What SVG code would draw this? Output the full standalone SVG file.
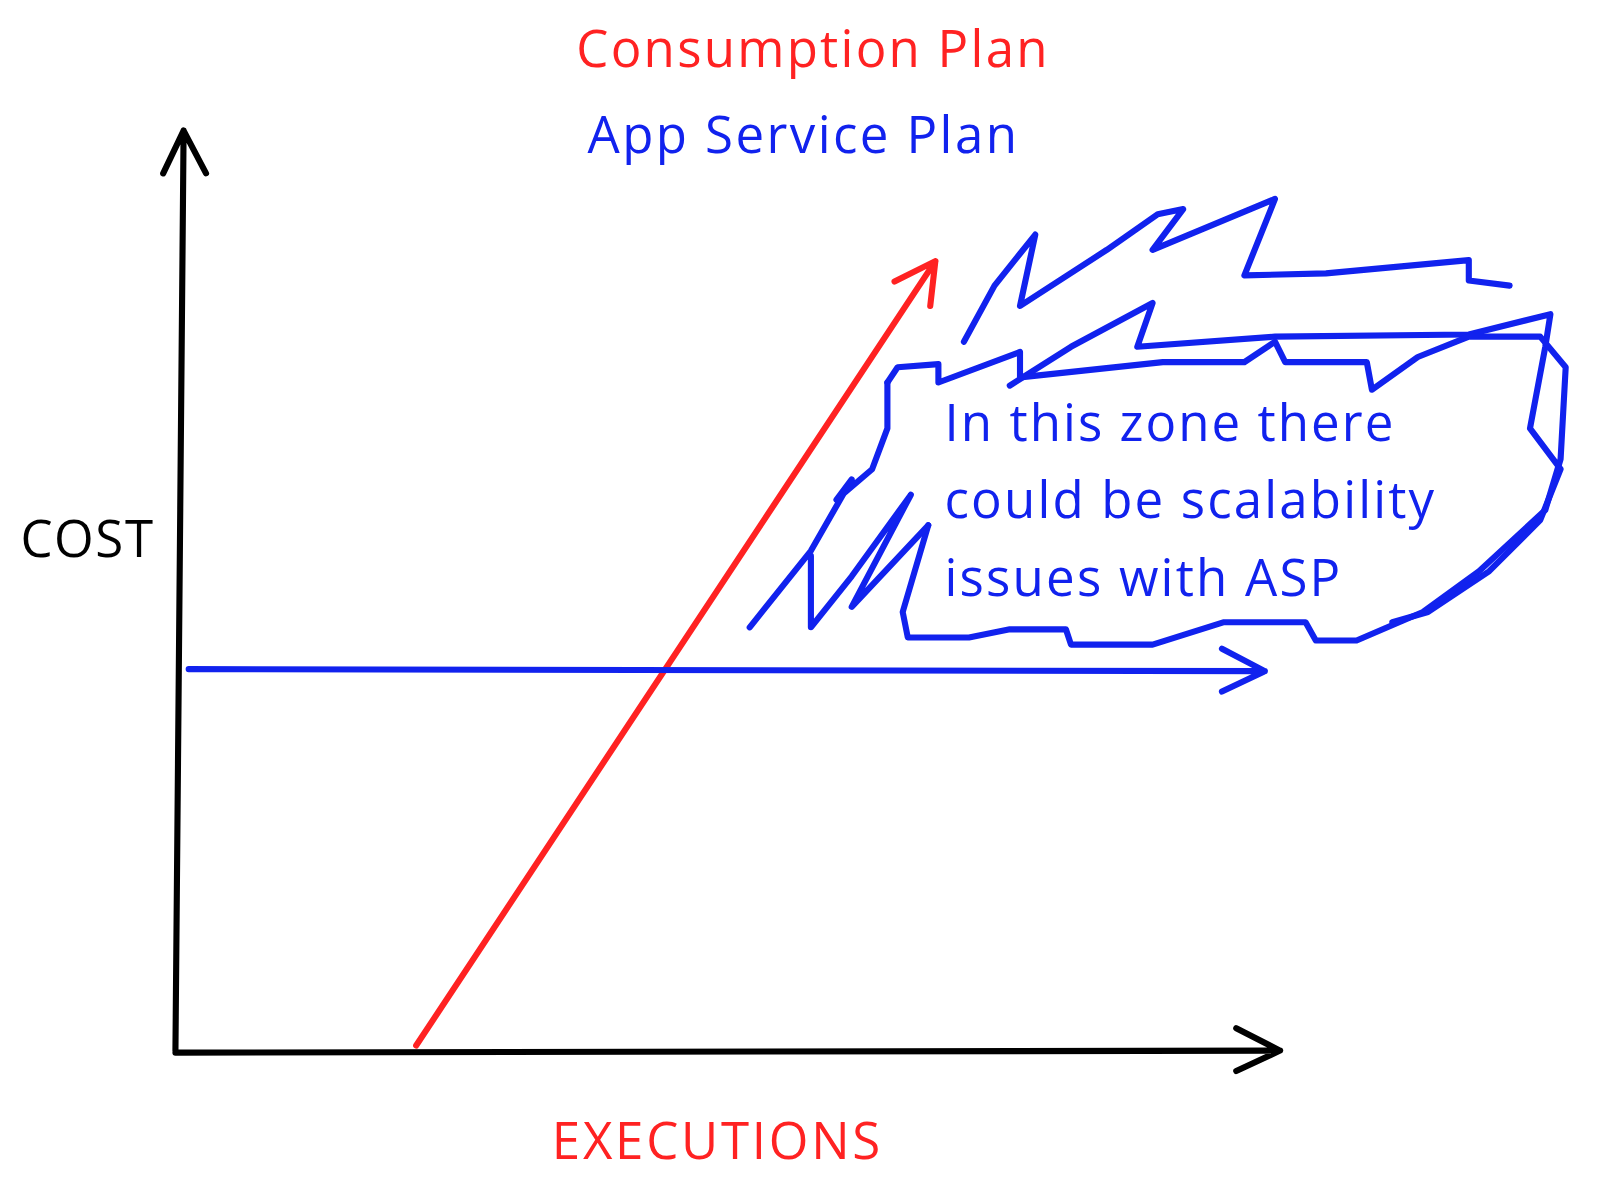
<svg xmlns="http://www.w3.org/2000/svg" width="1600" height="1200" viewBox="0 0 1600 1200">
<style>
.t{font-family:"Open Sans","Liberation Sans",sans-serif;font-size:50px}
.s{fill:none;stroke-width:6;stroke-linecap:round;stroke-linejoin:round}
</style>
<rect width="1600" height="1200" fill="#fff"/>
<g transform="scale(1.02)">
<g id="labels">
<text class="t" x="565" y="66" fill="#f22" textLength="462">Consumption Plan</text>
<text class="t" x="576" y="150" fill="#12e" textLength="421">App Service Plan</text>
<text class="t" x="20" y="546" fill="#000" textLength="130">COST</text>
<text class="t" x="541" y="1136" fill="#f22" textLength="322">EXECUTIONS</text>
<text class="t" x="926" y="432" fill="#12e" textLength="440">In this zone there</text>
<text class="t" x="926" y="508" fill="#12e" textLength="480">could be scalability</text>
<text class="t" x="926" y="584" fill="#12e" textLength="388">issues with ASP</text>
</g>
<g id="connectors">
<path class="s" stroke="#000" d="M172,1030 L180,128 M160,170 L180,128 L202,170 M172,1032 L1255,1030 M1212,1008 L1255,1030 L1212,1050"/>
<path class="s" stroke="#f22" d="M408,1025 L917,256 M877,276 L917,256 L912,300"/>
<path class="s" stroke="#12e" d="M185,656 L1240,658 M1198,636 L1240,658 L1198,678"/>
</g>
<g id="scribble">
<path class="s" stroke="#12e" d="M945,335 L975,280 L1015,230 L1000,300 L1085,245 L1135,210 L1160,205 L1130,245 L1250,195 L1220,270 L1300,268 L1440,255 L1440,275 L1480,280"/>
<path class="s" stroke="#12e" d="M990,378 L1050,340 L1130,297 L1115,340 L1250,330 L1440,328 L1520,308 L1515,340 L1500,420 L1530,460 L1510,510 L1460,560 L1400,600 L1365,610"/>
<path class="s" stroke="#12e" d="M870,375 L880,360 L920,357 L920,375 L1000,345 L1000,370 L1140,355 L1220,355 L1250,335 L1260,355 L1340,355 L1345,382 L1390,350 L1440,330 L1510,330 L1535,360 L1530,450 L1515,500 L1450,560 L1395,600 L1330,628 L1290,628 L1280,610 L1200,610 L1130,632 L1050,632 L1045,617 L990,617 L950,625 L890,625 L885,600 L910,515"/>
<path class="s" stroke="#12e" d="M870,375 L870,420 L855,460 L820,490 L835,470 L795,540 L735,615 M795,545 L795,615 L835,565 L893,485 L835,595 L910,515"/>
</g>
</g>
</svg>
